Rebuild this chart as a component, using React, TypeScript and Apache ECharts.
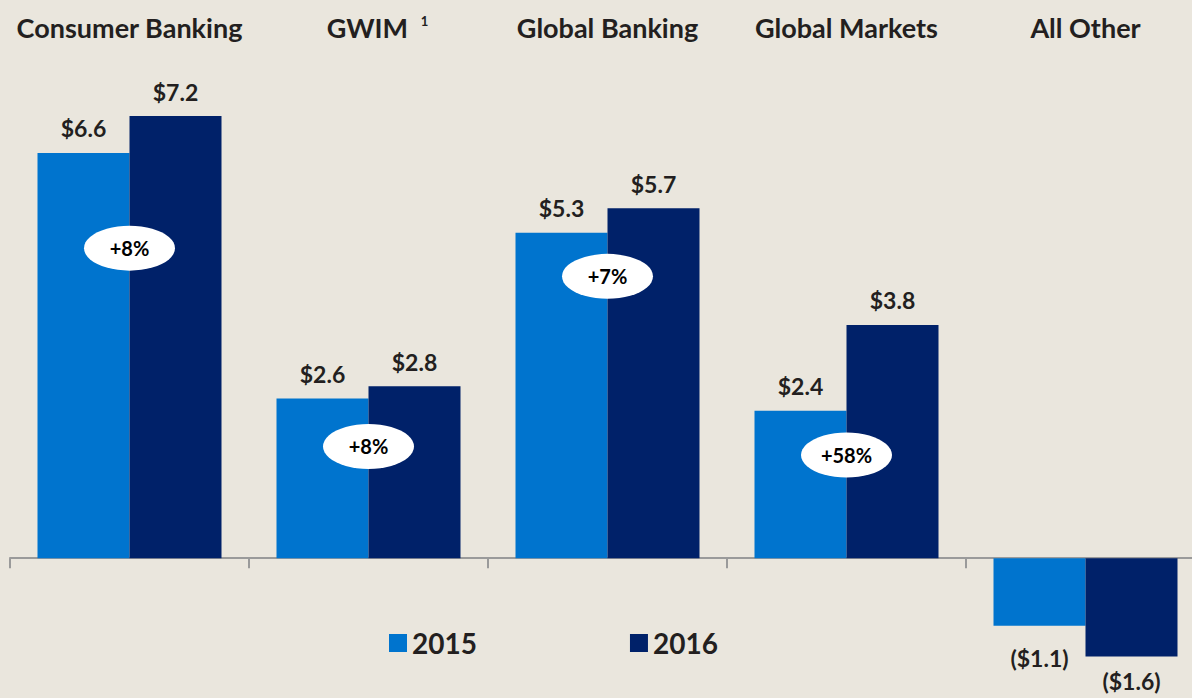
import React, { useEffect, useRef } from "react";
import * as echarts from "echarts";

const categories = ["Consumer Banking", "GWIM", "Global Banking", "Global Markets", "All Other"];
const values2015 = [6.6, 2.6, 5.3, 2.4, -1.1];
const values2016 = [7.2, 2.8, 5.7, 3.8, -1.6];
const growthLabels = ["+8%", "+8%", "+7%", "+58%", null];
const growthY = [5.05, 1.82, 4.59, 1.68, null];

const FONT = "Lato, 'Noto Sans', sans-serif";
const TEXT = "#231F20";

const fmt = (v: number) => (v < 0 ? `($${Math.abs(v).toFixed(1)})` : `$${v.toFixed(1)}`);

const barData = (vals: number[], negDistance: number) =>
  vals.map((v) => ({
    value: v,
    label: v < 0 ? { position: "bottom", distance: negDistance } : { position: "top", distance: 13 },
  }));

export default function App() {
  const ref = useRef<HTMLDivElement>(null);
  useEffect(() => {
    if (!ref.current) return;
    const chart = echarts.init(ref.current, undefined, { renderer: "svg" });
    const valueLabel = {
      show: true,
      fontFamily: FONT,
      fontWeight: "bold",
      fontSize: 23,
      color: TEXT,
      formatter: (p: any) => fmt(p.value),
    };
    chart.setOption({
      animation: false,
      backgroundColor: "#EAE6DD",
      textStyle: { fontFamily: FONT },
      grid: { left: 10, top: 67, width: 1195, height: 614, containLabel: false, outerBoundsMode: "none" },
      legend: {
        data: ["2015", "2016"],
        left: 384,
        top: 624,
        itemWidth: 18,
        itemHeight: 18,
        itemGap: 153,
        icon: "rect",
        textStyle: { fontFamily: FONT, fontWeight: "bold", fontSize: 28, color: TEXT },
      },
      xAxis: [
        {
          type: "category",
          data: categories,
          position: "bottom",
          axisLine: { onZero: true, lineStyle: { color: "#9A9A9A", width: 2 } },
          axisTick: { show: true, length: 10, lineStyle: { color: "#9A9A9A", width: 2 } },
          axisLabel: { show: false },
        },
        {
          type: "category",
          data: categories,
          position: "top",
          axisLine: { show: false },
          axisTick: { show: false },
          axisLabel: {
            show: true,
            interval: 0,
            hideOverlap: false,
            margin: 26,
            fontFamily: FONT,
            fontWeight: "bold",
            fontSize: 27,
            color: TEXT,
            formatter: (v: string) => (v === "GWIM" ? "{a|GWIM}{s|    1}" : v),
            rich: {
              a: { fontFamily: FONT, fontWeight: "bold", fontSize: 27, color: TEXT, padding: [0, 0, 0, 18] },
              s: { fontFamily: FONT, fontWeight: "bold", fontSize: 13, color: TEXT, verticalAlign: "top", padding: [0, 0, 14, 0] },
            },
          },
        },
      ],
      yAxis: {
        type: "value",
        min: -2,
        max: 8,
        show: false,
        splitLine: { show: false },
      },
      series: [
        {
          name: "2015",
          type: "bar",
          data: barData(values2015, 21),
          barWidth: 92,
          barGap: "0%",
          itemStyle: { color: "#0074CE" },
          label: valueLabel,
        },
        {
          name: "2016",
          type: "bar",
          data: barData(values2016, 13),
          barWidth: 92,
          barGap: "0%",
          itemStyle: { color: "#002169" },
          label: valueLabel,
        },
        {
          name: "growth",
          type: "scatter",
          data: growthY.map((y, i) => (y === null ? "-" : { value: y, name: growthLabels[i] })),
          symbol: "circle",
          symbolSize: [91, 45],
          itemStyle: { color: "#FFFFFF", opacity: 1 },
          z: 5,
          label: {
            show: true,
            position: "inside",
            fontFamily: FONT,
            fontWeight: "bold",
            fontSize: 20,
            color: "#000000",
            formatter: (p: any) => growthLabels[p.dataIndex] ?? "",
          },
          emphasis: { disabled: true },
        },
      ],
    });
    return () => chart.dispose();
  }, []);
  return <div ref={ref} style={{ width: 1192, height: 698, position: "absolute", left: 0, top: 0 }} />;
}
